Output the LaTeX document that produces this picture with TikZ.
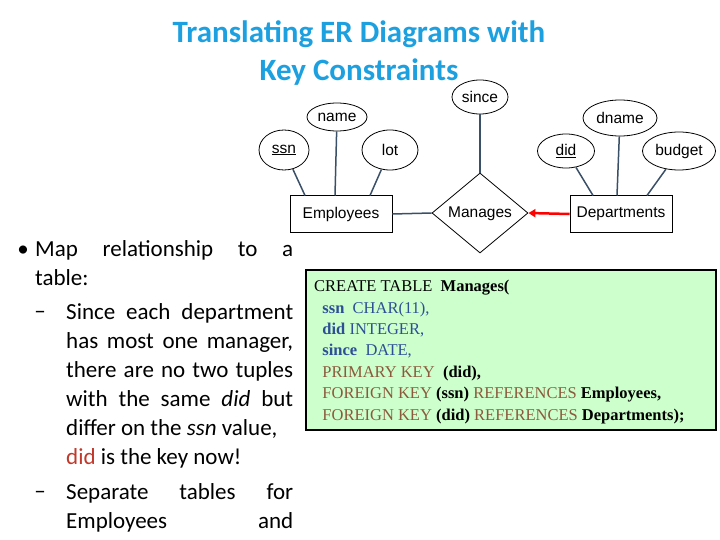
\documentclass[tikz,border=0pt]{standalone}
\usepackage{fontspec}
\setmainfont{Carlito}
\newfontfamily\arialf{Liberation Sans}
\newfontfamily\timesf{Liberation Serif}
\usetikzlibrary{shapes.geometric,arrows.meta}
\definecolor{ttl}{HTML}{1CA0E0}
\definecolor{ln}{HTML}{3A5068}
\definecolor{codebg}{HTML}{CCFFCC}
\definecolor{cblue}{HTML}{2E4F96}
\definecolor{cbrown}{HTML}{8B5A3C}
\definecolor{kred}{HTML}{C0392B}
\tikzset{
 attr/.style={ellipse,draw,thick,inner sep=0pt,font=\arialf\fontsize{15.5}{17}\selectfont},
 ent/.style={rectangle,draw,thick,inner sep=0pt,minimum width=102,minimum height=37,font=\arialf\fontsize{15.5}{17}\selectfont},
 rel/.style={diamond,draw,thick,inner sep=0pt,minimum width=96,minimum height=80,font=\arialf\fontsize{15.5}{17}\selectfont},
 conn/.style={draw=ln,line width=1.5pt},
 body/.style={anchor=north west,inner sep=0pt,align=justify,font=\fontsize{23}{29}\selectfont},
 mark glyph/.style={font=\fontsize{23}{29}\selectfont,inner sep=0pt},
}
\begin{document}
\begin{tikzpicture}[x=1pt,y=-1pt]
\useasboundingbox (0,0) rectangle (720,540);
\node[font=\bfseries\fontsize{31}{38}\selectfont,text=ttl,align=center] (title) at (359,53) {Translating ER Diagrams with\\Key Constraints};
% attributes
\node[attr,minimum width=56,minimum height=34] (since) at (480,97) {since};
\node[attr,minimum width=60,minimum height=28] (name) at (337,117) {name};
\node[attr,minimum width=50,minimum height=40] (ssn) at (284,150) {\underline{ssn}};
\node[attr,minimum width=56,minimum height=40] (lot) at (390,150) {lot};
\node[attr,minimum width=57,minimum height=34] (did) at (566,151) {\underline{did}};
\node[attr,minimum width=74,minimum height=36] (dname) at (620,118) {dname};
\node[attr,minimum width=73,minimum height=38] (budget) at (679,151) {budget};
\node[ent] (emp) at (341,214) {Employees};
\node[rel] (man) at (480,213) {};
\node[font=\arialf\fontsize{15.5}{17}\selectfont] (manl) at (480,214) {Manages};
\node[ent] (dep) at (621,214) {Departments};
\coordinate (e1) at (305,195.5); \coordinate (e2) at (335,195.5); \coordinate (e3) at (370,195.5);
\coordinate (d1) at (593,195.5); \coordinate (d2) at (617,195.5); \coordinate (d3) at (647,195.5);
\draw[conn] (ssn) -- (e1);
\draw[conn] (name) -- (e2);
\draw[conn] (lot) -- (e3);
\draw[conn] (since) -- (man.north);
\draw[conn] (emp.east) -- (man.west);
\draw[conn] (did) -- (d1);
\draw[conn] (dname) -- (d2);
\draw[conn] (budget) -- (d3);
\draw[red,line width=2.5pt,-{Triangle[length=7pt,width=8pt]}] (dep.west) -- (man.east);
% bullet text
\node[mark glyph] (b1) at (23,251) {•};
\node[body,text width=258] (t1) at (35,240) {Map relationship to a\linebreak table:};
\node[mark glyph] (b2) at (40,315) {–};
\node[body,text width=227] (t2) at (66,303) {Since each department\linebreak has most one manager,\linebreak there are no two tuples\linebreak with the same \emph{did} but\linebreak differ on the \emph{ssn} value,\\\textcolor{kred}{did} is the key now!};
\node[mark glyph] (b3) at (40,495) {–};
\node[body,text width=227] (t3) at (66,483) {Separate tables for\linebreak Employees and\linebreak};
% code box
\node[draw,line width=1.5pt,fill=codebg,minimum width=410,minimum height=160,anchor=north west] (box) at (305,269) {};
\node[anchor=north west,inner sep=0pt,align=left,font=\timesf\fontsize{16.5}{21.4}\selectfont] (code) at (314,280) {%
CREATE TABLE\ \ \textbf{Manages(}\\
\ \ \textcolor{cblue}{\textbf{ssn}\ \ CHAR(11),}\\
\ \ \textcolor{cblue}{\textbf{did}\ INTEGER,}\\
\ \ \textcolor{cblue}{\textbf{since}\ \ DATE,}\\
\ \ \textcolor{cbrown}{PRIMARY KEY}\ \ \textbf{(did),}\\
\ \ \textcolor{cbrown}{FOREIGN KEY} \textbf{(ssn)} \textcolor{cbrown}{REFERENCES} \textbf{Employees,}\\
\ \ \textcolor{cbrown}{FOREIGN KEY} \textbf{(did)} \textcolor{cbrown}{REFERENCES} \textbf{Departments);}};
\end{tikzpicture}
\end{document}
